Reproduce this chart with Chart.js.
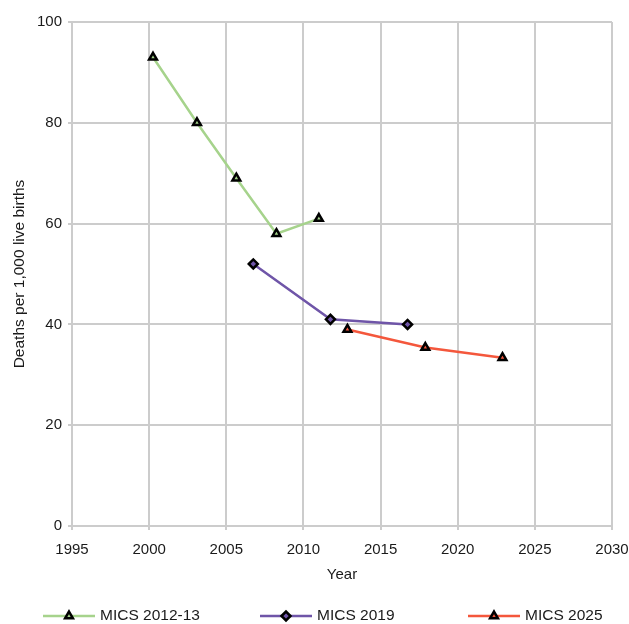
<!DOCTYPE html>
<html>
<head>
<meta charset="utf-8">
<script src="https://cdn.jsdelivr.net/npm/chart.js@4"></script>
<style>
  html, body { margin: 0; padding: 0; background: #fff; }
  #wrap { width: 629px; height: 624px; position: relative; }
</style>
</head>
<body>
<div id="wrap"><canvas id="myChart"></canvas></div>
<script>
// series data (year, deaths per 1,000 live births)
const mics2012Years = [2000.25, 2003.1, 2005.65, 2008.25, 2011];
const mics2012Values = [93, 80, 69, 58, 61];
const mics2019Years = [2006.75, 2011.75, 2016.75];
const mics2019Values = [52, 41, 40];
const mics2025Years = [2012.85, 2017.9, 2022.9];
const mics2025Values = [39, 35.4, 33.4];

const seriesNames = ['MICS 2012-13', 'MICS 2019', 'MICS 2025'];
const seriesColors = ['#a6d38c', '#6f55a8', '#f4573c'];
const seriesMarkers = ['triangle', 'rectRot', 'triangle'];

const toPoints = (xs, ys) => xs.map((x, i) => ({ x: x, y: ys[i] }));

const fontFamily = '"Liberation Sans", Arial, sans-serif';
const textColor = '#1a1a1a';
const gridColor = '#cccccc';

// legend drawn under the plot: line with marker in the middle, like the original
const lineLegend = {
  id: 'lineLegend',
  afterDraw(chart) {
    const ctx = chart.ctx;
    const starts = [43, 260, 468];
    const y = 616;
    ctx.save();
    chart.data.datasets.forEach((ds, i) => {
      const x0 = starts[i];
      ctx.strokeStyle = ds.borderColor;
      ctx.lineWidth = 2.5;
      ctx.beginPath();
      ctx.moveTo(x0, y);
      ctx.lineTo(x0 + 52, y);
      ctx.stroke();
      ctx.lineWidth = 2.5;
      ctx.strokeStyle = '#000';
      ctx.fillStyle = ds.borderColor;
      Chart.helpers.drawPoint(ctx, { pointStyle: ds.pointStyle, radius: 4.5, borderWidth: 2.5 }, x0 + 26, y);
      ctx.fillStyle = textColor;
      ctx.font = '15.5px ' + fontFamily;
      ctx.textBaseline = 'middle';
      ctx.textAlign = 'left';
      ctx.fillText(ds.label, x0 + 57, y);
    });
    ctx.restore();
  }
};

const makeSet = (i, xs, ys) => ({
  label: seriesNames[i],
  data: toPoints(xs, ys),
  borderColor: seriesColors[i],
  backgroundColor: seriesColors[i],
  borderWidth: 2.5,
  pointStyle: seriesMarkers[i],
  pointRadius: 4.5,
  pointBorderWidth: 2.5,
  pointBorderColor: '#000',
  pointBackgroundColor: seriesColors[i],
  showLine: true,
  tension: 0
});

new Chart(document.getElementById('myChart'), {
  type: 'scatter',
  data: {
    datasets: [
      makeSet(0, mics2012Years, mics2012Values),
      makeSet(1, mics2019Years, mics2019Values),
      makeSet(2, mics2025Years, mics2025Values)
    ]
  },
  options: {
    responsive: true,
    maintainAspectRatio: false,
    animation: false,
    layout: { padding: { top: 22, right: 17, left: 0, bottom: 38 } },
    plugins: {
      legend: { display: false },
      tooltip: { enabled: false }
    },
    scales: {
      x: {
        type: 'linear',
        min: 1995,
        max: 2030,
        afterFit: s => { s.height = 60; s.paddingLeft = 0; s.paddingRight = 0; },
        ticks: {
          stepSize: 5,
          color: textColor,
          font: { family: fontFamily, size: 15 },
          padding: 11,
          maxRotation: 0,
          callback: v => String(v)
        },
        grid: { color: gridColor, lineWidth: 2, drawTicks: true, tickLength: 4 },
        border: { color: gridColor, width: 2 },
        title: {
          display: true,
          text: 'Year',
          color: textColor,
          font: { family: fontFamily, size: 15 },
          padding: { top: 0, bottom: 2 }
        }
      },
      y: {
        min: 0,
        max: 100,
        afterFit: s => { s.width = 72; },
        ticks: {
          stepSize: 20,
          color: textColor,
          font: { family: fontFamily, size: 15 },
          padding: 6
        },
        grid: { color: gridColor, lineWidth: 2, drawTicks: true, tickLength: 4 },
        border: { color: gridColor, width: 2 },
        title: {
          display: true,
          text: 'Deaths per 1,000 live births',
          color: textColor,
          font: { family: fontFamily, size: 15.5 },
          padding: { top: 10, bottom: 0 }
        }
      }
    }
  },
  plugins: [lineLegend]
});
</script>
</body>
</html>
